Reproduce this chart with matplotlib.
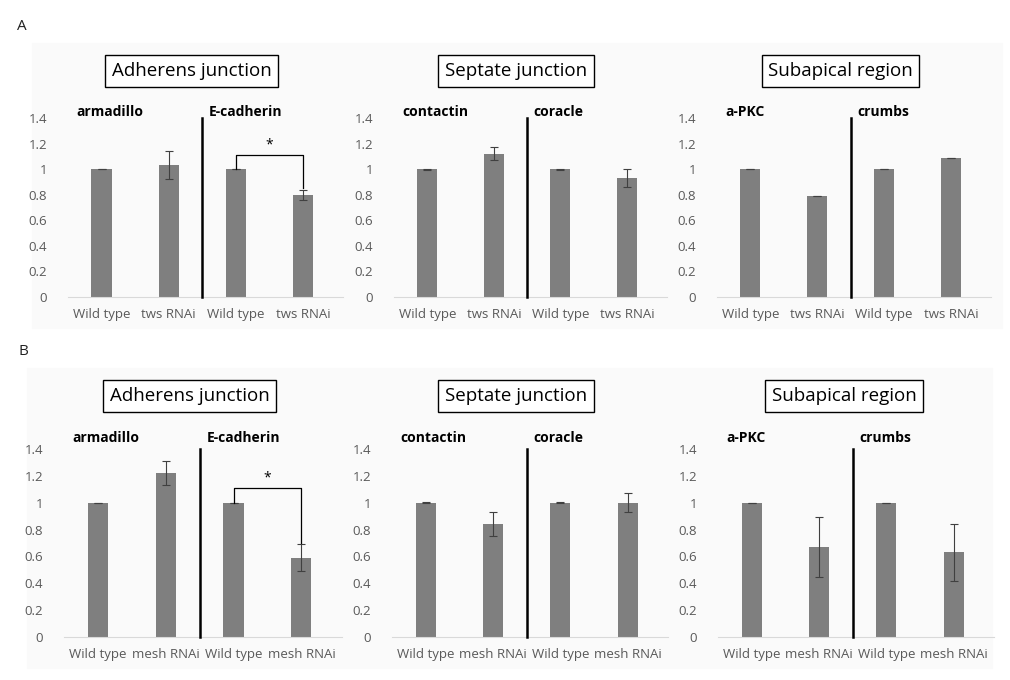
import matplotlib
matplotlib.use("Agg")
import matplotlib.pyplot as plt
from matplotlib.patches import Rectangle

plt.rcParams["font.family"] = ["Open Sans", "DejaVu Sans"]

W, H = 1010, 680

# data
cats_a = ["Wild type", "tws RNAi", "Wild type", "tws RNAi"]
cats_b = ["Wild type", "mesh RNAi", "Wild type", "mesh RNAi"]
titles = ["Adherens junction", "Septate junction", "Subapical region"]
genes = [("armadillo", "E-cadherin"), ("contactin", "coracle"), ("a-PKC", "crumbs")]

vals_a = [[1.0, 1.03, 1.0, 0.80],
          [1.0, 1.12, 1.0, 0.93],
          [1.0, 0.79, 1.0, 1.09]]
err_a = [[0.0, 0.11, 0.0, 0.04],
         [0.004, 0.05, 0.004, 0.07],
         [0.0, 0.0, 0.0, 0.0]]
vals_b = [[1.0, 1.22, 1.0, 0.59],
          [1.0, 0.84, 1.0, 1.00],
          [1.0, 0.67, 1.0, 0.63]]
err_b = [[0.0, 0.09, 0.0, 0.10],
         [0.004, 0.09, 0.004, 0.07],
         [0.0, 0.22, 0.0, 0.21]]

# pixel layout: (left, right) of each axes, (bottom, top) of each row
cols_a = [(68, 343), (394, 667), (717, 991)]
cols_b = [(64, 342), (392, 668), (718, 994)]
row_a = (297, 118)
row_b = (637, 449)
box_a = [(107, 276), (439, 593), (763, 918)]
box_b = [(104, 275), (439, 593), (767, 921)]

fig = plt.figure(figsize=(W / 100, H / 100), dpi=100)

# faint panel backgrounds
fig.patches.append(Rectangle((32 / W, 1 - 328 / H), (1002 - 32) / W, (328 - 43) / H,
                             transform=fig.transFigure, color="#fafafa", zorder=-5))
fig.patches.append(Rectangle((27 / W, 1 - 668 / H), (992 - 27) / W, (668 - 368) / H,
                             transform=fig.transFigure, color="#fafafa", zorder=-5))

fig.text(17 / W, 1 - 27 / H, "A", fontsize=11, va="center", ha="left", color="#222")
fig.text(19 / W, 1 - 351 / H, "B", fontsize=11, va="center", ha="left", color="#222")


def draw_row(cols, row, boxes, cats, vals, errs, title_y, gene_y, sig_top):
    bot, top = row
    for i, (l, r) in enumerate(cols):
        ax = fig.add_axes([l / W, 1 - bot / H, (r - l) / W, (bot - top) / H])
        ax.set_facecolor("none")
        x = list(range(4))
        ax.bar(x, vals[i], width=0.3, color="#7f7f7f", zorder=2)
        ax.errorbar(x, vals[i], yerr=errs[i], fmt="none", ecolor="#404040",
                    elinewidth=0.8, capsize=3, capthick=0.8, zorder=3)
        ax.set_xlim(-0.5, 3.6)
        ax.set_ylim(0, 1.4)
        ax.set_yticks([0, 0.2, 0.4, 0.6, 0.8, 1.0, 1.2, 1.4])
        ax.set_yticklabels(["0", "0.2", "0.4", "0.6", "0.8", "1", "1.2", "1.4"])
        ax.set_xticks(x)
        ax.set_xticklabels(cats)
        ax.tick_params(axis="y", length=0, pad=15, labelsize=9.5, labelcolor="#595959")
        ax.tick_params(axis="x", length=0, pad=8, labelsize=9.5, labelcolor="#595959")
        for s in ["top", "right", "left"]:
            ax.spines[s].set_visible(False)
        ax.spines["bottom"].set_color("#d9d9d9")
        ax.plot([1.5, 1.5], [0, 1.4], color="black", lw=1.8, clip_on=False, zorder=4)
        ax.text(-0.38, gene_y, genes[i][0], fontsize=10, fontweight="bold", va="center")
        ax.text(1.6, gene_y, genes[i][1], fontsize=10, fontweight="bold", va="center")
        if i == 0:
            yb = 1.11
            ax.plot([2, 2, 3, 3], [1.0, yb, yb, sig_top], color="black", lw=0.9, zorder=4)
            ax.text(2.5, yb + 0.02, "*", ha="center", va="bottom", fontsize=10)
        bl, br = boxes[i]
        fig.text((bl + br) / 2 / W, 1 - title_y / H, titles[i], fontsize=13.5,
                 ha="center", va="center",
                 bbox=dict(boxstyle="square,pad=0.35", fc="white", ec="black", lw=1))


draw_row(cols_a, row_a, box_a, cats_a, vals_a, err_a, 71, 1.45,
         vals_a[0][3] + err_a[0][3] + 0.01)
draw_row(cols_b, row_b, box_b, cats_b, vals_b, err_b, 396, 1.48,
         vals_b[0][3] + err_b[0][3] + 0.01)

fig.savefig("out.png", dpi=100)
